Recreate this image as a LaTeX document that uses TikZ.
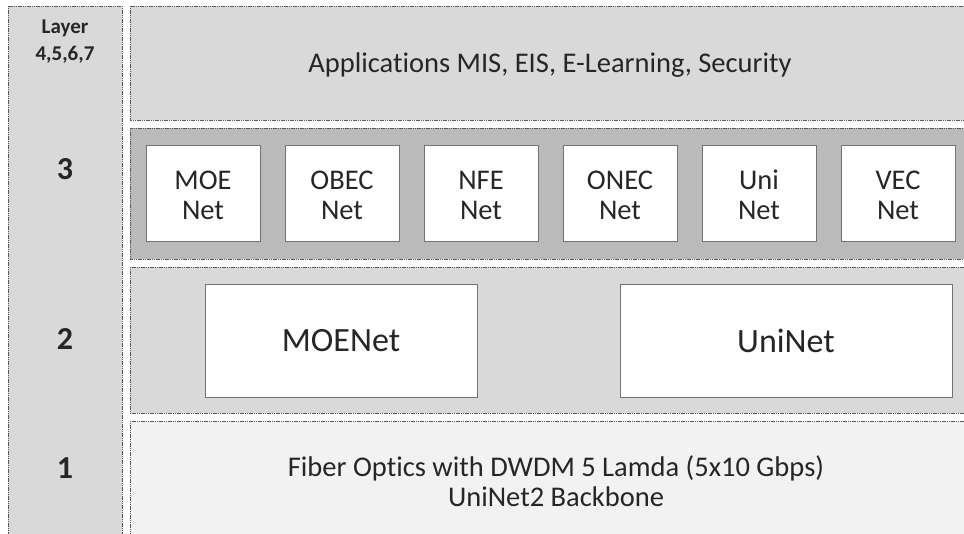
\documentclass[tikz,border=0pt]{standalone}
\usepackage{fontspec}
\setmainfont[RawFeature={-liga,-clig,-calt,-dlig}]{Carlito}
\begin{document}
\begin{tikzpicture}[x=1pt,y=-1pt,
  band/.style={draw=black!65, line width=0.8pt, dash pattern=on 1.2pt off 0.6pt},
  wbox/.style={draw=black!55, line width=0.7pt, fill=white},
  txt/.style={font=\fontsize{28.5}{30}\selectfont, align=center, text=black!85},
  lbl/.style={font=\bfseries\fontsize{32}{36}\selectfont, text=black!85}]
\useasboundingbox (0,0) rectangle (964,534);
\fill[white] (0,0) rectangle (964,534);
% left column
\path[band, fill=black!15] (8,6) rectangle (122,540);
\node[font=\bfseries\fontsize{21}{27}\selectfont, align=center, text=black!85] (layer) at (65,42) {Layer\\4,5,6,7};
\node[lbl] (l3) at (65,169) {3};
\node[lbl] (l2) at (65,339) {2};
\node[lbl] (l1) at (65,468) {1};
% top band
\path[band, fill=black!15] (130,6) rectangle (970,120);
\node[txt] (apps) at (550,65) {Applicat\kern0pt ions MIS, EIS, E-Learning, Security};
% layer 3 band
\path[band, fill=black!27] (130,128) rectangle (970,259);
\foreach \n/\a/\b/\x in {moe/MOE/Net/203, obec/OBEC/Net/342, nfe/NFE/Net/481, onec/ONEC/Net/620, uni/Uni/Net/759, vec/VEC/Net/898}{
  \path[wbox] (\x-57,145) rectangle (\x+57,241);
  \node[txt] (\n) at (\x,195) {\a\\\b};
}
% layer 2 band
\path[band, fill=black!15] (130,267) rectangle (970,413);
\path[wbox] (205,284) rectangle (477,397);
\node[txt, font=\fontsize{34}{38}\selectfont] (moenet) at (341,341) {MOENet};
\path[wbox] (620,284) rectangle (952,397);
\node[txt, font=\fontsize{34}{38}\selectfont] (uninet) at (786,341) {UniNet};
% layer 1 band
\path[band, fill=black!5] (130,421) rectangle (970,540);
\node[txt] (fiber) at (556,481) {Fiber Optics with DWDM 5 Lamda (5x10 Gbps)\\UniNet2 Backbone};
\end{tikzpicture}
\end{document}
